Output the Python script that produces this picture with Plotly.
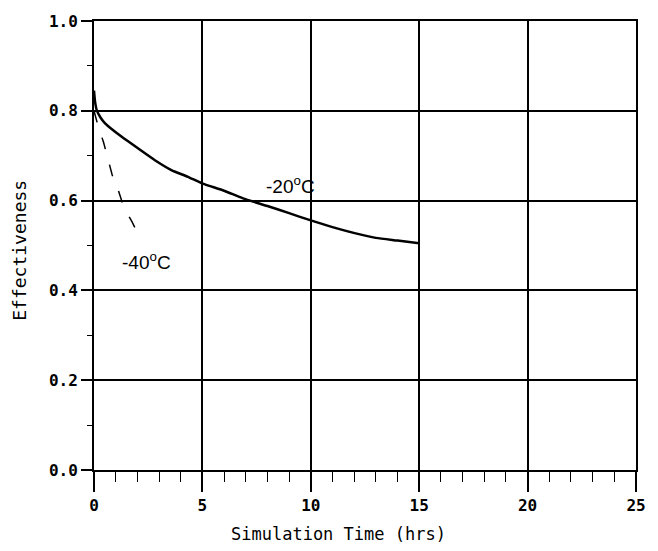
import plotly.graph_objects as go

# -20 C curve (solid)
t20 = [0, 0.05, 0.13, 0.3, 0.51, 0.9, 1.28, 2.04, 2.81, 3.57, 4.33, 5.02, 6, 6.87, 8, 9, 9.93, 11, 12.07, 13, 14, 15]
e20 = [0.845, 0.82, 0.801, 0.785, 0.772, 0.756, 0.742, 0.716, 0.69, 0.668, 0.653, 0.638, 0.622, 0.605, 0.588, 0.572, 0.557, 0.541, 0.527, 0.517, 0.511, 0.505]

# -40 C curve (dashed)
t40 = [0, 0.2, 0.44, 0.65, 0.84, 1.14, 1.37, 1.75, 2.06]
e40 = [0.80, 0.764, 0.73, 0.69, 0.657, 0.62, 0.586, 0.553, 0.523]

x_ticks = [0, 5, 10, 15, 20, 25]
x_labels = ["0", "5", "10", "15", "20", "25"]
y_ticks = [0.0, 0.2, 0.4, 0.6, 0.8, 1.0]
y_labels = ["0.0", "0.2", "0.4", "0.6", "0.8", "1.0"]

fig = go.Figure()
fig.add_trace(go.Scatter(x=t20, y=e20, mode="lines", line=dict(color="black", width=2.5, shape="spline", smoothing=0.6),
                         showlegend=False, hoverinfo="skip"))
fig.add_trace(go.Scatter(x=t40, y=e40, mode="lines", line=dict(color="black", width=1.5, dash="12px,16px"),
                         showlegend=False, hoverinfo="skip"))

mono = "DejaVu Sans Mono"
fig.update_layout(
    width=658, height=551,
    margin=dict(l=93.5, r=20, t=20.5, b=80.5),
    paper_bgcolor="white", plot_bgcolor="white",
    xaxis=dict(range=[0, 25], tickvals=x_ticks, ticktext=x_labels,
               showgrid=True, gridcolor="black", gridwidth=1.5,
               showline=True, linecolor="black", linewidth=2, mirror=True,
               ticks="outside", ticklen=20, tickwidth=1.5, tickcolor="black",
               minor=dict(dtick=1, ticks="outside", ticklen=10, tickwidth=1.2, tickcolor="black", showgrid=False),
               tickfont=dict(family=mono, size=16, color="black", weight="bold"), zeroline=False),
    yaxis=dict(range=[0, 1], tickvals=y_ticks, ticktext=y_labels,
               showgrid=True, gridcolor="black", gridwidth=2,
               showline=True, linecolor="black", linewidth=2, mirror=True,
               ticks="outside", ticklen=11, tickwidth=2, tickcolor="black",
               minor=dict(dtick=0.1, ticks="outside", ticklen=5, tickwidth=1.2, tickcolor="black", showgrid=False),
               tickfont=dict(family=mono, size=16, color="black", weight="bold"), zeroline=False),
    annotations=[
        dict(text="Simulation Time (hrs)", xref="paper", yref="paper", x=0.451, y=-0.142,
             xanchor="center", yanchor="middle", showarrow=False,
             font=dict(family=mono, size=17, color="black")),
        dict(text="Effectiveness", xref="paper", yref="paper", x=-0.137, y=0.49,
             xanchor="center", yanchor="middle", textangle=-90, showarrow=False,
             font=dict(family=mono, size=18, color="black")),
        dict(text="-20<sup>o</sup>C", x=9.05, y=0.635, xref="x", yref="y", showarrow=False,
             font=dict(family="Liberation Sans", size=19, color="black")),
        dict(text="-40<sup>o</sup>C", x=2.43, y=0.465, xref="x", yref="y", showarrow=False,
             font=dict(family="Liberation Sans", size=19, color="black")),
    ],
)

fig.write_html("out.html")
